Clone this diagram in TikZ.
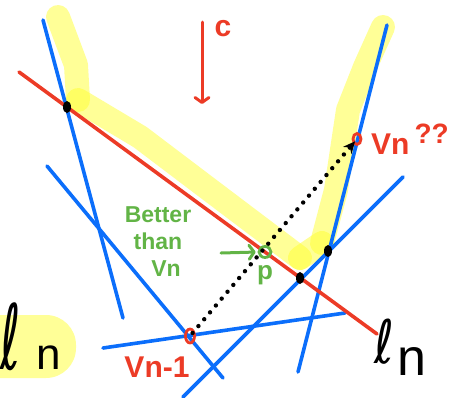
\documentclass[tikz,border=0pt]{standalone}
\usepackage{fontspec}
\setmainfont{Liberation Sans}
\newfontfamily\ellfont{DejaVu Sans}
\usepackage{xcolor}
\usepackage{tikz}
\usetikzlibrary{arrows.meta,shapes.geometric}
\definecolor{lineBlue}{HTML}{0B6EFB}
\definecolor{lineRed}{HTML}{EC3B26}
\definecolor{noteGreen}{HTML}{62B446}
\definecolor{markYellow}{HTML}{FFFF30}
\tikzset{
  bluestroke/.style={draw=lineBlue, line width=3.6pt, line cap=round},
  redstroke/.style={draw=lineRed, line width=3.6pt, line cap=round},
  markstroke/.style={draw=markYellow, draw opacity=0.5, line width=24pt, line cap=round, line join=round},
  vertexdot/.style={ellipse, fill=black, minimum width=8pt, minimum height=12pt, inner sep=0pt},
  vertexring/.style={ellipse, draw=#1, line width=2.8pt, minimum width=9pt, minimum height=14pt, inner sep=0pt},
  handlabel/.style={text=#1, inner sep=0pt, align=center},
  dotarrow/.style={draw=black, line width=4.4pt, line cap=round, dash pattern=on 0pt off 9pt, -{Stealth[length=12pt,width=11pt]}},
  barbarrow/.style={draw=#1, line width=3pt, line cap=round, -{Straight Barb[round,length=5pt,width=14pt]}},
}

\begin{document}
\begin{tikzpicture}[x=1pt,y=-1pt]
  \useasboundingbox (0,0) rectangle (455,397);

  % ---------- highlighted boundary ----------
  \draw[markstroke] (58,17) -- (76,65) -- (78,100);
  \draw[markstroke] (78,100) -- (140,137) -- (210,190) -- (300,258);
  \draw[markstroke] (300,258) -- (322,243);
  \draw[markstroke] (322,243) -- (336,190) -- (348,110) -- (365,67) -- (383,27);
  \fill[markYellow, fill opacity=0.5, rounded corners=30pt] (-30,315) rectangle (76,378);

  % ---------- constraint lines ----------
  \coordinate (b1a) at (43,20);   \coordinate (b1b) at (123,318);
  \coordinate (b2a) at (47,166);  \coordinate (b2b) at (223,378);
  \coordinate (b3a) at (103,348); \coordinate (b3b) at (345,313);
  \coordinate (b4a) at (387,25);  \coordinate (b4b) at (298,372);
  \coordinate (b5a) at (403,177); \coordinate (b5b) at (183,397);
  \coordinate (lna) at (19,72);   \coordinate (lnb) at (377,334);

  \draw[bluestroke] (b1a) -- (b1b);
  \draw[bluestroke] (b2a) -- (b2b);
  \draw[bluestroke] (b3a) -- (b3b);
  \draw[bluestroke] (b4a) -- (b4b);
  \draw[bluestroke] (b5a) -- (b5b);
  \draw[redstroke]  (lna) -- (lnb);

  % ---------- vertices ----------
  \node[vertexdot] (xleft)  at (67,107)  {};
  \node[vertexdot] (xlow)   at (300,278) {};
  \node[vertexdot] (xright) at (328,251) {};

  \node[vertexring=lineRed]   (vprev) at (190,336) {};
  \node[vertexring=lineRed, minimum width=8pt, minimum height=11pt] (vcur) at (357,139) {};
  \node[vertexring=noteGreen, minimum width=12pt, minimum height=11pt] (pring) at (265,252) {};

  % ---------- arrows ----------
  \draw[dotarrow, shorten <=4pt, shorten >=3pt] (vprev.center) -- (vcur.center);

  \coordinate (ctop) at (202,22);
  \coordinate (cbot) at (202,104);
  \draw[barbarrow=lineRed] (ctop) -- (cbot);

  \coordinate (ptail) at (221,253);
  \draw[barbarrow=noteGreen, shorten >=2pt] (ptail) -- (pring.west);

  % ---------- labels ----------
  \node[handlabel=lineRed, font=\bfseries\fontsize{30}{30}\selectfont] (clab) at (223,29) {c};
  \node[handlabel=lineRed, font=\bfseries\fontsize{30}{30}\selectfont, anchor=west] (vcurlab) at (371,139)
    {Vn\,\raisebox{11pt}{\fontsize{28}{28}\selectfont ??}};
  \node[handlabel=lineRed, font=\bfseries\fontsize{30}{30}\selectfont] (vprevlab) at (157,367) {Vn-1};
  \node[handlabel=noteGreen, font=\bfseries\fontsize{23}{27}\selectfont] (better) at (158,242)
    {Better\\than\\\hspace{16pt}Vn};
  \node[handlabel=noteGreen, font=\bfseries\fontsize{26}{26}\selectfont] (plab) at (265,275) {p};

  \node[handlabel=black, anchor=base west] (lnleft) at (0,369)
    {{\ellfont\fontsize{90}{90}\selectfont\scalebox{0.55}[1]{ℓ}}\hspace{16pt}{\fontsize{44}{44}\selectfont n}};
  \node[handlabel=black, anchor=base west] (lnright) at (374,363)
    {{\ellfont\fontsize{60}{60}\selectfont\scalebox{0.8}[1]{ℓ}}\hspace{3pt}\raisebox{-12pt}{\fontsize{52}{52}\selectfont n}};

\end{tikzpicture}
\end{document}
